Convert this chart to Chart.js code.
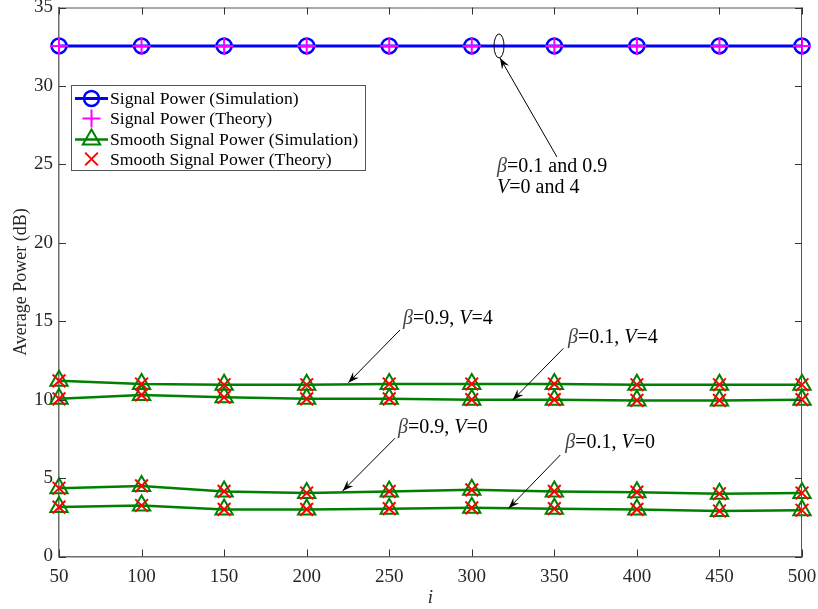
<!DOCTYPE html>
<html>
<head>
<meta charset="utf-8">
<script src="https://cdn.jsdelivr.net/npm/chart.js@4.4.1/dist/chart.umd.min.js"></script>
<style>
  body { margin: 0; background: #fff; }
  #wrap { width: 818px; height: 609px; }
</style>
</head>
<body>
<div id="wrap"><canvas id="powerChart" width="818" height="609"></canvas></div>
<script>
// iteration index i
const iValues = [50, 100, 150, 200, 250, 300, 350, 400, 450, 500];

// signal power (all beta / V overlap)
const signalSim = [32.55, 32.55, 32.55, 32.55, 32.55, 32.55, 32.55, 32.55, 32.55, 32.55];
const signalTheory = [32.55, 32.55, 32.55, 32.55, 32.55, 32.55, 32.55, 32.55, 32.55, 32.55];

// smooth signal power, simulation
const smoothSimB09V4 = [11.2, 11.0, 10.95, 10.95, 11.0, 11.0, 11.0, 10.95, 10.95, 10.95];
const smoothSimB01V4 = [10.05, 10.3, 10.15, 10.05, 10.05, 10.0, 10.0, 9.95, 9.95, 10.0];
const smoothSimB09V0 = [4.35, 4.5, 4.15, 4.05, 4.15, 4.25, 4.15, 4.1, 4.0, 4.05];
const smoothSimB01V0 = [3.15, 3.25, 3.0, 3.0, 3.05, 3.1, 3.05, 3.0, 2.9, 2.95];

// smooth signal power, theory
const smoothThB09V4 = [11.2, 11.0, 10.95, 10.95, 11.0, 11.0, 11.0, 10.95, 10.95, 10.95];
const smoothThB01V4 = [10.05, 10.3, 10.15, 10.05, 10.05, 10.0, 10.0, 9.95, 9.95, 10.0];
const smoothThB09V0 = [4.35, 4.5, 4.15, 4.05, 4.15, 4.25, 4.15, 4.1, 4.0, 4.05];
const smoothThB01V0 = [3.15, 3.25, 3.0, 3.0, 3.05, 3.1, 3.05, 3.0, 2.9, 2.95];

const xTicks = [50, 100, 150, 200, 250, 300, 350, 400, 450, 500];
const yTicks = [0, 5, 10, 15, 20, 25, 30, 35];

// annotations in data units: text anchor, arrow start, arrow tip
const notes = [
    { lines: [['β', '=0.1 and 0.9'], ['V', '=0 and 4']], tx: 315.3, ty: 24.83, ax: 351.6, ay: 25.47, bx: 317.1, by: 31.78 },
    { lines: [['β', '=0.9, ', 'V', '=4']], tx: 258.4, ty: 15.14, ax: 256.5, ay: 14.44, bx: 225.2, by: 11.08 },
    { lines: [['β', '=0.1, ', 'V', '=4']], tx: 358.3, ty: 13.93, ax: 355.5, ay: 13.27, bx: 324.8, by: 9.98 },
    { lines: [['β', '=0.9, ', 'V', '=0']], tx: 255.3, ty: 8.19, ax: 253.5, ay: 7.54, bx: 221.8, by: 4.18 },
    { lines: [['β', '=0.1, ', 'V', '=0']], tx: 356.6, ty: 7.24, ax: 353.6, ay: 6.47, bx: 322.3, by: 3.07 }
];
const ellipseAt = { x: 316.5, y: 32.55 };

const SERIF = "'Liberation Serif', 'Times New Roman', serif";
const AXIS_TEXT = '#262626';

function pts(arr) {
    return iValues.map((v, k) => ({ x: v, y: arr[k] }));
}

function simSet(label, arr) {
    return {
        label: label, data: pts(arr), borderColor: '#008000', borderWidth: 2.5,
        pointStyle: 'triangle', pointRadius: 10, pointBorderWidth: 2,
        pointBackgroundColor: 'rgba(0,0,0,0)', pointBorderColor: '#008000', order: 3, clip: false
    };
}
function theorySet(label, arr) {
    return {
        label: label, data: pts(arr), showLine: false, borderColor: '#ff0000',
        pointStyle: 'crossRot', pointRadius: 9, pointBorderWidth: 2,
        pointBorderColor: '#ff0000', order: 1, clip: false
    };
}

const datasets = [
    {
        label: 'Signal Power (Simulation)', data: pts(signalSim), borderColor: '#0000ff', borderWidth: 3,
        pointStyle: 'circle', pointRadius: 7.5, pointBorderWidth: 2.5,
        pointBackgroundColor: 'rgba(0,0,0,0)', pointBorderColor: '#0000ff', order: 4, clip: false
    },
    {
        label: 'Signal Power (Theory)', data: pts(signalTheory), showLine: false, borderColor: '#ff00ff',
        pointStyle: 'cross', pointRadius: 9, pointBorderWidth: 2, pointBorderColor: '#ff00ff', order: 2, clip: false
    },
    simSet('Smooth Signal Power (Simulation)', smoothSimB09V4),
    simSet('', smoothSimB01V4),
    simSet('', smoothSimB09V0),
    simSet('', smoothSimB01V0),
    theorySet('Smooth Signal Power (Theory)', smoothThB09V4),
    theorySet('', smoothThB01V4),
    theorySet('', smoothThB09V0),
    theorySet('', smoothThB01V0)
];

// box, inward ticks, legend and annotations
const decorPlugin = {
    id: 'decor',
    afterDatasetsDraw(chart) {
        const ctx = chart.ctx;
        const a = chart.chartArea;
        const xs = chart.scales.x, ys = chart.scales.y;

        ctx.save();
        // top and right box lines
        ctx.strokeStyle = '#555';
        ctx.lineWidth = 1;
        ctx.beginPath();
        ctx.moveTo(a.left, a.top + 0.5); ctx.lineTo(a.right, a.top + 0.5);
        ctx.moveTo(a.right - 0.5, a.top); ctx.lineTo(a.right - 0.5, a.bottom);
        ctx.stroke();

        // inward ticks
        ctx.strokeStyle = '#333';
        ctx.beginPath();
        xTicks.forEach(t => {
            const px = Math.round(xs.getPixelForValue(t)) + 0.5;
            ctx.moveTo(px, a.bottom); ctx.lineTo(px, a.bottom - 7);
            ctx.moveTo(px, a.top); ctx.lineTo(px, a.top + 7);
        });
        yTicks.forEach(t => {
            const py = Math.round(ys.getPixelForValue(t)) + 0.5;
            ctx.moveTo(a.left, py); ctx.lineTo(a.left + 7, py);
            ctx.moveTo(a.right, py); ctx.lineTo(a.right - 7, py);
        });
        ctx.stroke();

        // legend
        const lx = 71, ly = 85, lw = 294, lh = 85;
        ctx.fillStyle = '#fff';
        ctx.fillRect(lx, ly, lw, lh);
        ctx.strokeStyle = '#555';
        ctx.lineWidth = 1;
        ctx.strokeRect(lx + 0.5, ly + 0.5, lw, lh);
        const legendSets = [datasets[0], datasets[1], datasets[2], datasets[6]];
        const rowY = [98.5, 118.5, 139.5, 159];
        ctx.textBaseline = 'middle';
        legendSets.forEach((ds, k) => {
            const y = rowY[k];
            if (ds.showLine !== false) {
                ctx.strokeStyle = ds.borderColor;
                ctx.lineWidth = ds.borderWidth;
                ctx.beginPath();
                ctx.moveTo(75, y); ctx.lineTo(108, y);
                ctx.stroke();
            }
            ctx.strokeStyle = ds.pointBorderColor;
            ctx.lineWidth = ds.pointBorderWidth;
            ctx.beginPath();
            drawMarker(ctx, ds.pointStyle, ds.pointRadius, 91.5, y);
            ctx.stroke();
            ctx.font = '17.7px ' + SERIF;
            ctx.fillStyle = '#000';
            ctx.fillText(ds.label, 110, y + 1);
        });

        // ellipse around the signal lines
        ctx.strokeStyle = '#000';
        ctx.lineWidth = 1;
        ctx.beginPath();
        ctx.ellipse(xs.getPixelForValue(ellipseAt.x), ys.getPixelForValue(ellipseAt.y), 5, 12, 0, 0, Math.PI * 2);
        ctx.stroke();

        // arrows and labels
        notes.forEach(n => {
            const x0 = xs.getPixelForValue(n.ax), y0 = ys.getPixelForValue(n.ay);
            const x1 = xs.getPixelForValue(n.bx), y1 = ys.getPixelForValue(n.by);
            drawArrow(ctx, x0, y0, x1, y1);
            let ty = ys.getPixelForValue(n.ty);
            n.lines.forEach(parts => {
                let x = xs.getPixelForValue(n.tx);
                parts.forEach(p => {
                    const italic = (p === 'β' || p === 'V');
                    ctx.font = (italic ? 'italic ' : '') + '20px ' + SERIF;
                    ctx.fillStyle = p === 'β' ? '#444' : '#000';
                    ctx.textBaseline = 'middle';
                    ctx.fillText(p, x, ty);
                    x += ctx.measureText(p).width;
                });
                ty += 21;
            });
        });
        ctx.restore();
    }
};

function drawMarker(ctx, style, r, x, y) {
    if (style === 'circle') {
        ctx.moveTo(x + r, y);
        ctx.arc(x, y, r, 0, Math.PI * 2);
    } else if (style === 'cross') {
        ctx.moveTo(x - r, y); ctx.lineTo(x + r, y);
        ctx.moveTo(x, y - r); ctx.lineTo(x, y + r);
    } else if (style === 'crossRot') {
        const d = r * Math.SQRT1_2;
        ctx.moveTo(x - d, y - d); ctx.lineTo(x + d, y + d);
        ctx.moveTo(x - d, y + d); ctx.lineTo(x + d, y - d);
    } else if (style === 'triangle') {
        ctx.moveTo(x, y - r);
        ctx.lineTo(x + r * 0.866, y + r * 0.5);
        ctx.lineTo(x - r * 0.866, y + r * 0.5);
        ctx.closePath();
    }
}

function drawArrow(ctx, x0, y0, x1, y1) {
    ctx.strokeStyle = '#000';
    ctx.fillStyle = '#000';
    ctx.lineWidth = 1;
    ctx.beginPath();
    ctx.moveTo(x0, y0); ctx.lineTo(x1, y1);
    ctx.stroke();
    const ang = Math.atan2(y1 - y0, x1 - x0);
    const len = 11, half = 4;
    const bx = x1 - len * Math.cos(ang), by = y1 - len * Math.sin(ang);
    const cx = x1 - len * 0.65 * Math.cos(ang), cy = y1 - len * 0.65 * Math.sin(ang);
    ctx.beginPath();
    ctx.moveTo(x1, y1);
    ctx.lineTo(bx - half * Math.sin(ang), by + half * Math.cos(ang));
    ctx.lineTo(cx, cy);
    ctx.lineTo(bx + half * Math.sin(ang), by - half * Math.cos(ang));
    ctx.closePath();
    ctx.fill();
}

const ctxPower = document.getElementById('powerChart').getContext('2d');
const powerChart = new Chart(ctxPower, {
    type: 'line',
    data: { datasets: datasets },
    plugins: [decorPlugin],
    options: {
        responsive: false,
        animation: false,
        events: [],
        layout: { autoPadding: false, padding: { top: 7.5, right: 16, left: 0, bottom: 0 } },
        plugins: { legend: { display: false }, tooltip: { enabled: false } },
        elements: { line: { tension: 0 } },
        scales: {
            x: {
                type: 'linear', min: 50, max: 500,
                afterBuildTicks: s => { s.ticks = xTicks.map(v => ({ value: v })); },
                afterFit: s => { s.height = 52.5; s.paddingLeft = 0; s.paddingRight = 0; },
                grid: { display: false },
                border: { display: true, color: '#6e6e6e', width: 1.5 },
                ticks: { color: AXIS_TEXT, font: { family: SERIF, size: 19 }, padding: 1, maxRotation: 0 },
                title: { display: true, text: 'i', color: AXIS_TEXT, font: { family: SERIF, size: 19, style: 'italic' }, padding: { top: 0, bottom: 0 } }
            },
            y: {
                type: 'linear', min: 0, max: 35,
                afterBuildTicks: s => { s.ticks = yTicks.map(v => ({ value: v })); },
                afterFit: s => { s.width = 59; s.paddingTop = 0; s.paddingBottom = 0; },
                grid: { display: false },
                border: { display: true, color: '#6e6e6e', width: 1.5 },
                ticks: { color: AXIS_TEXT, font: { family: SERIF, size: 19 }, padding: -2 },
                title: { display: true, text: 'Average Power (dB)', color: AXIS_TEXT, font: { family: SERIF, size: 18 }, padding: { top: 10, bottom: 0 } }
            }
        }
    }
});
</script>
</body>
</html>
